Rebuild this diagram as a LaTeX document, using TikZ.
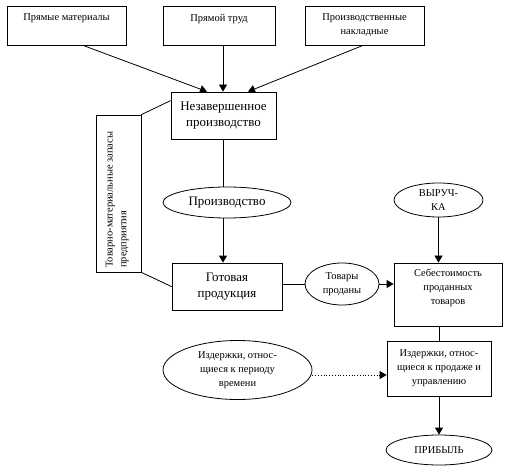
\documentclass[tikz,border=0pt]{standalone}
\usepackage{fontspec}
\setmainfont{Liberation Serif}
\usetikzlibrary{shapes.geometric,arrows.meta,calc}
\begin{document}
\begin{tikzpicture}[x=1bp,y=-1bp,
  box/.style={draw,line width=0.8bp,inner sep=0,align=center},
  oval/.style={draw,ellipse,line width=0.8bp,inner sep=0,align=center},
  sm/.style={font=\fontsize{10.5}{14}\selectfont,align=center},
  big/.style={font=\fontsize{13}{16}\selectfont},
  arr/.style={-{Triangle[length=7bp,width=8bp]},line width=0.8bp},
  ln/.style={line width=0.8bp}]
\useasboundingbox (0,0) rectangle (507,473);
% top boxes
\node[box,minimum width=119bp,minimum height=39bp,
  label={[sm,anchor=north,yshift=-5bp]north:Прямые материалы}] (b1) at (66.5,25.5) {};
\node[box,minimum width=112bp,minimum height=39bp,
  label={[sm,anchor=north,yshift=-5bp]north:Прямой труд}] (b2) at (219,25.5) {};
\node[box,minimum width=119bp,minimum height=39bp,
  label={[sm,anchor=north,yshift=-5bp]north:Производственные\\накладные}] (b3) at (364.5,25.5) {};
% middle
\node[box,big,minimum width=105bp,minimum height=47bp] (np) at (223.5,115.5) {Незавершенное\\производство};
\node[box,minimum width=45bp,minimum height=157bp] (inv) at (118.5,193.5) {};
\node[sm,rotate=90,anchor=north west,align=left,inner sep=0] (invt) at (105.5,268) {Товарно-материальные запасы\\предприятия};
\node[oval,big,minimum width=128bp,minimum height=31bp] (prod) at (227,202.5) {Производство};
\node[box,big,minimum width=110bp,minimum height=47bp] (ready) at (227,286.5) {Готовая\\продукция};
\node[oval,sm,minimum width=74bp,minimum height=42bp] (tp) at (342,284) {Товары\\проданы};
\node[box,minimum width=108bp,minimum height=63bp,
  label={[sm,anchor=north,yshift=-3bp]north:Себестоимость\\проданных\\товаров}] (seb) at (448,294.5) {};
\node[oval,sm,minimum width=89bp,minimum height=34bp] (vyr) at (438.5,200) {ВЫРУЧ-\\КА};
\node[box,sm,minimum width=104bp,minimum height=55bp] (izb) at (439,368.5) {Издержки, относ-\\щиеся к продаже и\\управлению};
\node[oval,sm,minimum width=149bp,minimum height=59bp] (ize) at (237.5,370) {Издержки, относ-\\щиеся к периоду\\времени};
\node[oval,sm,minimum width=106bp,minimum height=30bp] (prib) at (439,450) {ПРИБЫЛЬ};
% connectors
\draw[arr] ($(b1.south)+(16.5,0)$) -- ($(np.north)+(-16.5,0)$);
\draw[arr] ($(b2.south)+(4,0)$) -- (np.north -| {$(b2.south)+(4,0)$});
\draw[arr] ($(b3.south)+(-1.5,0)$) -- ($(np.north)+(24.5,0)$);
\draw[ln] (inv.north east) -- ($(np.north west)+(0,9)$);
\draw[ln] (inv.south east) -- ($(ready.north west)+(0,24)$);
\draw[ln] ($(np.south)+(-0.5,0)$) coordinate (c1) -- (c1 |- prod.north);
\draw[arr] (c1 |- prod.south) -- (c1 |- ready.north);
\draw[ln] (ready.east |- tp.west) -- (tp.west);
\draw[arr] (tp.east) -- (tp.east -| seb.west);
\draw[arr] (vyr.south) -- (vyr.south |- seb.north);
\draw[ln] (seb.south -| izb.north) -- (izb.north);
\draw[arr,dotted] ($(ize.east)+(0,5)$) coordinate (c2) -- (c2 -| izb.west);
\draw[arr] (izb.south) -- (prib.north);
\end{tikzpicture}
\end{document}
